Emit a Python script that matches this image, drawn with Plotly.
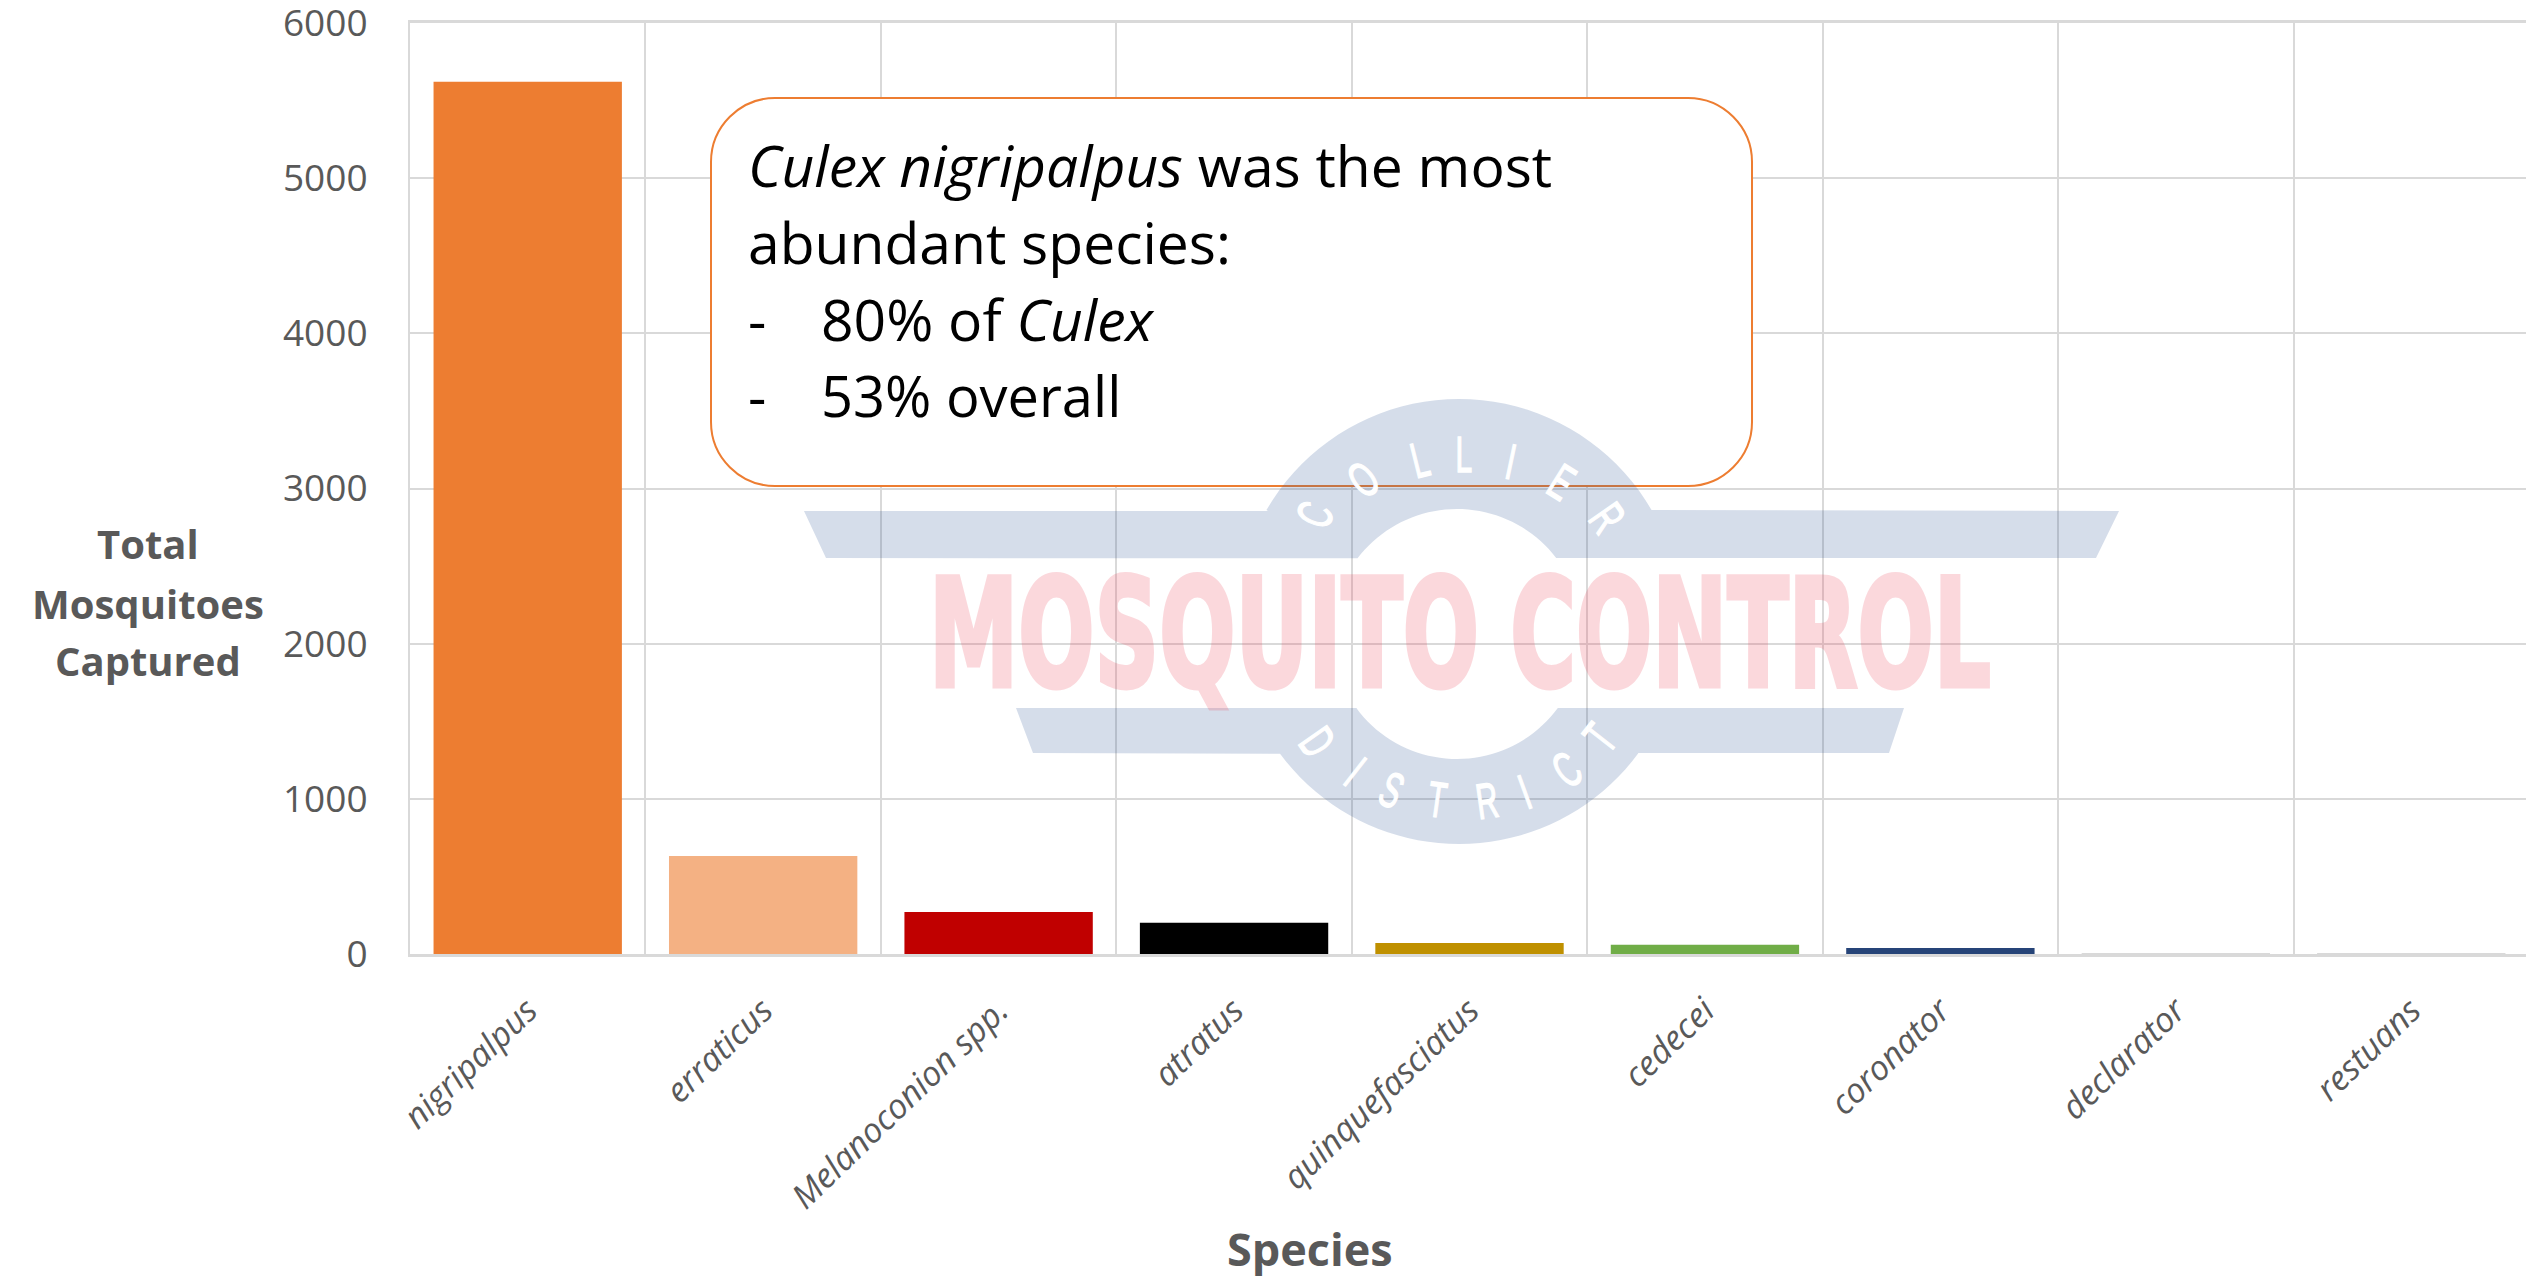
import math
import plotly.graph_objects as go

species = ["nigripalpus", "erraticus", "Melanoconion spp.", "atratus", "quinquefasciatus",
           "cedecei", "coronator", "declarator", "restuans"]
captured = [5622, 632, 271, 201, 71, 60, 39, 2, 1]
bar_colors = ["#ED7D31", "#F4B183", "#C00000", "#000000", "#BF9000", "#70AD47", "#264478", "#D9D9D9", "#D9D9D9"]
y_ticks = [0, 1000, 2000, 3000, 4000, 5000, 6000]
y_title_lines = ["Total", "Mosquitoes", "Captured"]

W, H = 2526, 1276
L, T, B = 410, 23, 954
PW, PH = W - L, B - T
FONT = "Open Sans"
GREY = "#595959"
GRID = "#D9D9D9"


def px(x):
    return (x - L) / PW


def py(y):
    return (B - y) / PH


def P(x, y):
    return f"{px(x):.5f},{py(y):.5f}"


def arc(cx, cy, r, a0, a1, n=40):
    pts = []
    for i in range(n + 1):
        a = math.radians(a0 + (a1 - a0) * i / n)
        pts.append("L" + P(cx + r * math.cos(a), cy + r * math.sin(a)))
    return "".join(pts)


def label(x, y, text, size, color=GREY, angle=0, anchor="center", family=FONT, opacity=None):
    d = dict(xref="paper", yref="paper", x=px(x), y=py(y), text=text, showarrow=False,
             xanchor=anchor, yanchor="middle", textangle=angle,
             font=dict(family=family, size=size, color=color))
    if opacity is not None:
        d["opacity"] = opacity
    return d


fig = go.Figure(go.Bar(x=species, y=captured, marker=dict(color=bar_colors, line=dict(width=0)), width=0.8))

# callout box
x0, x1, y0, y1, r = 711, 1752, 98, 486, 64
k = r * 0.45
box = ("M" + P(x0 + r, y0) + "L" + P(x1 - r, y0)
       + "C" + P(x1 - k, y0) + " " + P(x1, y0 + k) + " " + P(x1, y0 + r)
       + "L" + P(x1, y1 - r)
       + "C" + P(x1, y1 - k) + " " + P(x1 - k, y1) + " " + P(x1 - r, y1)
       + "L" + P(x0 + r, y1)
       + "C" + P(x0 + k, y1) + " " + P(x0, y1 - k) + " " + P(x0, y1 - r)
       + "L" + P(x0, y0 + r)
       + "C" + P(x0, y0 + k) + " " + P(x0 + k, y0) + " " + P(x0 + r, y0) + "Z")

# watermark logo pieces
cx, cy, R = 1459, 621.5, 222.5
hx, hy, hr = 1457, 634, 125
a_ot0 = math.degrees(math.atan2(511 - cy, 1268 - cx))
a_ot1 = math.degrees(math.atan2(511 - cy, 1650 - cx))
a_it0 = math.degrees(math.atan2(558 - hy, 1556 - hx))
a_it1 = math.degrees(math.atan2(558 - hy, 1357 - hx))
upper = ("M" + P(804, 511) + "L" + P(1268, 511)
         + arc(cx, cy, R, a_ot0 if a_ot0 < 0 else a_ot0 - 360, a_ot1)
         + "L" + P(2119, 511) + "L" + P(2096, 558) + "L" + P(1556, 558)
         + arc(hx, hy, hr, a_it0, a_it1)
         + "L" + P(826, 558) + "Z")
a_ib0 = math.degrees(math.atan2(708 - hy, 1357 - hx))
a_ib1 = math.degrees(math.atan2(708 - hy, 1558 - hx))
a_ob0 = math.degrees(math.atan2(753 - cy, 1638 - cx))
a_ob1 = math.degrees(math.atan2(753 - cy, 1281 - cx))
lower = ("M" + P(1016, 708) + "L" + P(1357, 708)
         + arc(hx, hy, hr, a_ib0, a_ib1)
         + "L" + P(1904, 708) + "L" + P(1889, 753) + "L" + P(1638, 753)
         + arc(cx, cy, R, a_ob0, a_ob1)
         + "L" + P(1033, 753) + "Z")

shapes = [
    dict(type="path", xref="paper", yref="paper", path=box, fillcolor="white",
         line=dict(color="#ED7D31", width=2), layer="above"),
    dict(type="path", xref="paper", yref="paper", path=upper, fillcolor="#2F5597", opacity=0.2,
         line=dict(width=0), layer="above"),
    dict(type="path", xref="paper", yref="paper", path=lower, fillcolor="#2F5597", opacity=0.2,
         line=dict(width=0), layer="above"),
]

annotations = [
    label(148, 543, "<b>" + y_title_lines[0] + "</b>", 40),
    label(148, 603, "<b>" + y_title_lines[1] + "</b>", 40),
    label(148, 660, "<b>" + y_title_lines[2] + "</b>", 40),
    label(1310, 1248, "<b>Species</b>", 45),
    label(746, 165, "<i>Culex nigripalpus</i> was the most", 57, "#000000", anchor="left"),
    label(746, 242, "abundant species:", 57, "#000000", anchor="left"),
    label(746, 319, "-", 57, "#000000", anchor="left"),
    label(819, 319, "80% of <i>Culex</i>", 57, "#000000", anchor="left"),
    label(746, 395, "-", 57, "#000000", anchor="left"),
    label(819, 395, "53% overall", 56, "#000000", anchor="left"),
    label(1460, 634, "<b>MOSQUITO CONTROL</b>", 150, "#EF4056", family="DejaVu Sans", opacity=0.2),
]

for ch, x, y, ang in [("C", 1315, 515, -68), ("O", 1363, 480, -38), ("L", 1420, 460, -14), ("L", 1464, 455, 0),
                      ("I", 1511, 462, 12), ("E", 1561, 482, 32), ("R", 1607, 518, 55),
                      ("D", 1317, 742, 55), ("I", 1355, 772, 38), ("S", 1391, 790, 24), ("T", 1437, 800, 8),
                      ("R", 1487, 801, -8), ("I", 1525, 792, -20), ("C", 1567, 770, -36), ("T", 1600, 738, -52)]:
    annotations.append(label(x, y, ch, 50, "#FFFFFF", angle=ang, family="Liberation Sans"))

fig.update_layout(
    width=W, height=H, margin=dict(l=L, r=0, t=T, b=H - B, pad=0),
    plot_bgcolor="white", paper_bgcolor="white", showlegend=False,
    font=dict(family=FONT, color=GREY),
    bargap=0.2, shapes=shapes, annotations=annotations,
    xaxis=dict(type="category", categoryorder="array", categoryarray=species,
               range=[-0.5, 8.5 - 3 / 235.6], tickson="boundaries", tickangle=-44,
               showgrid=True, gridcolor=GRID, gridwidth=2, ticks="", ticklabelstandoff=20,
               tickfont=dict(family=FONT, size=34, color=GREY, style="italic"),
               showline=True, mirror=True, linecolor=GRID, linewidth=3, automargin=False),
    yaxis=dict(range=[0, 6000], tickvals=y_ticks, showgrid=True, gridcolor=GRID, gridwidth=2,
               zeroline=False, showline=True, linecolor=GRID, linewidth=2, ticks="", ticklabelstandoff=33,
               ticklabeloverflow="allow",
               tickfont=dict(family=FONT, size=37, color=GREY), automargin=False),
)

post = """
document.body.style.margin='0';
document.querySelectorAll('.annotation-text').forEach(function(t){
  var s = t.textContent;
  if (s.indexOf('MOSQUITO') >= 0) {
    t.setAttribute('textLength','1062');
    t.setAttribute('lengthAdjust','spacingAndGlyphs');
    t.style.stroke = '#EF4056';
    t.style.strokeWidth = '5px';
  } else if (s.length === 1 && s !== '-') {
    t.setAttribute('textLength', String(t.getComputedTextLength() * 0.6));
    t.setAttribute('lengthAdjust','spacingAndGlyphs');
    t.style.stroke = '#FFFFFF';
    t.style.strokeWidth = '1.5px';
  }
});
"""
fig.write_html("out.html", post_script=post, config=dict(displayModeBar=False))
